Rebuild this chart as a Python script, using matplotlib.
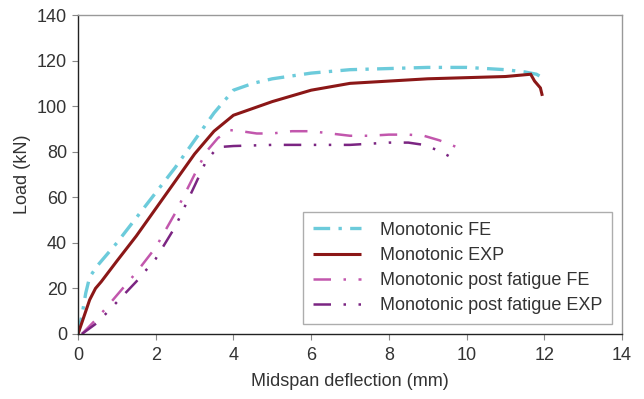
import matplotlib
matplotlib.use("Agg")
import matplotlib.pyplot as plt

plt.rcParams['font.family'] = ['Liberation Sans', 'DejaVu Sans']

# Monotonic FE
fe_x = [0, 0.1, 0.2, 0.3, 0.5, 1.0, 1.5, 2.0, 2.5, 3.0, 3.5, 4.0, 4.5, 5.0, 6.0, 7.0, 8.0, 9.0, 10.0, 11.0, 11.5, 11.8, 12.0]
fe_y = [0, 8, 18, 25, 30, 40, 51, 62, 73, 85, 97, 107, 110, 112, 114.5, 116, 116.5, 117, 117, 116, 115, 114, 112]

# Monotonic EXP
exp_x = [0, 0.1, 0.2, 0.3, 0.45, 0.6, 1.0, 1.5, 2.0, 2.5, 3.0, 3.5, 4.0, 5.0, 6.0, 7.0, 8.0, 9.0, 10.0, 11.0, 11.65, 11.75, 11.9, 11.95]
exp_y = [0, 5, 10, 15, 20, 23, 32, 43, 55, 67, 79, 89, 96, 102, 107, 110, 111, 112, 112.5, 113, 114, 111, 108, 104.5]

# Monotonic post fatigue FE
pfe_x = [0.1, 0.5, 1.0, 1.5, 2.0, 2.5, 3.0, 3.3, 3.6, 3.9, 4.2, 4.6, 5.0, 5.5, 6.0, 6.5, 7.0, 7.5, 8.0, 8.5, 8.9, 9.3, 9.9]
pfe_y = [0, 7, 17, 27, 38, 53, 70, 80, 86, 89.5, 89, 88, 88, 89, 89, 88, 87, 87, 87.5, 87.5, 87, 85, 81]

# Monotonic post fatigue EXP
pexp_x = [0.1, 0.5, 1.0, 1.5, 2.0, 2.5, 3.0, 3.3, 3.6, 4.0, 5.0, 6.0, 7.0, 7.5, 8.0, 8.5, 8.9, 9.2, 9.5, 9.75]
pexp_y = [0, 5, 14, 23, 33, 47, 65, 76, 82, 82.5, 83, 83, 83, 83.5, 84, 84, 83, 81, 78.5, 76]

labels = ["Monotonic FE", "Monotonic EXP", "Monotonic post fatigue FE", "Monotonic post fatigue EXP"]
xticks = [0, 2, 4, 6, 8, 10, 12, 14]
yticks = [0, 20, 40, 60, 80, 100, 120, 140]

fig = plt.figure(figsize=(6.44, 3.99), dpi=100)
ax = fig.add_axes([78 / 644, 1 - 334 / 399, 544 / 644, 319 / 399])

ax.plot(fe_x, fe_y, color="#6ccbdb", lw=2.4, dashes=(5, 2.5, 1, 2.5), label=labels[0])
ax.plot(exp_x, exp_y, color="#8b1717", lw=2.2, solid_capstyle="butt", solid_joinstyle="miter", label=labels[1])
ax.plot(pfe_x, pfe_y, color="#c257ad", lw=1.8, dashes=(7, 5, 1, 5), label=labels[2])
ax.plot(pexp_x, pexp_y, color="#7b2582", lw=1.8, dashes=(7, 5, 1, 5, 1, 5), label=labels[3])

ax.set_xlim(0, 14)
ax.set_ylim(0, 140)
ax.set_xticks(xticks)
ax.set_yticks(yticks)
ax.tick_params(axis="both", direction="out", length=4, width=0.8, color="#888888",
               labelsize=13, labelcolor="#333333")
ax.tick_params(axis="x", pad=5)
ax.tick_params(axis="y", pad=4)

ax.spines["left"].set_color("#222222")
ax.spines["bottom"].set_color("#222222")
ax.spines["top"].set_color("#999999")
ax.spines["right"].set_color("#999999")
for s in ax.spines.values():
    s.set_linewidth(1.0)

ax.set_xlabel("Midspan deflection (mm)", fontsize=13, color="#333333", labelpad=7)
ax.set_ylabel("Load (kN)", fontsize=13, color="#333333", labelpad=4)

leg = ax.legend(loc="lower right", bbox_to_anchor=(0.988, 0.02), fontsize=13, frameon=True,
                fancybox=False, edgecolor="#999999", handlelength=2.7, handletextpad=1.0,
                borderpad=0.55, labelspacing=0.45, borderaxespad=0.2)
leg.get_frame().set_linewidth(1.0)
for t in leg.get_texts():
    t.set_color("#333333")

fig.savefig("out.png", dpi=100)
